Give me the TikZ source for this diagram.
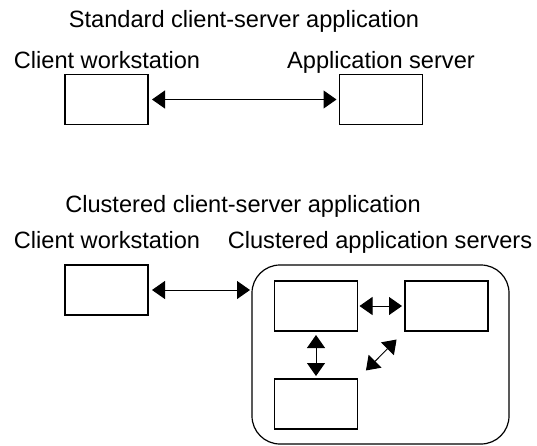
\documentclass[tikz,border=0pt]{standalone}
\usepackage{fontspec}
\setmainfont{Liberation Sans}
\usetikzlibrary{arrows.meta}
\begin{document}
\begin{tikzpicture}[x=1pt,y=-1pt,
  lbl/.style={anchor=base,inner sep=0pt,font=\fontsize{23.6}{28}\selectfont},
  srv/.style={draw,line width=1.2pt,inner sep=0pt,outer sep=0pt,minimum width=83pt,minimum height=50pt},
  cluster/.style={draw,line width=1.2pt,rounded corners=28pt,inner sep=0pt,outer sep=0pt,minimum width=257pt,minimum height=179pt},
  biarrow/.style={line width=1pt,{Triangle[length=13pt,width=18pt]}-{Triangle[length=13pt,width=18pt]}}
]
\useasboundingbox (0,0) rectangle (537,445);
% top section
\node[lbl] (t1) at (244,27) {Standard client-server application};
\node[lbl] (l1) at (107,68) {Client workstation};
\node[lbl] (l2) at (381,68) {Application server};
\node[srv] (c1) at (106.5,99.5) {};
\node[srv] (s1) at (381,99.5) {};
\draw[biarrow,shorten <=4pt,shorten >=3pt] (c1.east) -- (s1.west);
% bottom section
\node[lbl] (t2) at (243,212) {Clustered client-server application};
\node[lbl] (l3) at (107,248) {Client workstation};
\node[lbl] (l4) at (380,248) {Clustered application servers};
\node[srv] (c2) at (106.5,290) {};
\node[cluster] (cl) at (380.5,354.5) {};
\node[srv] (a) at (316,306) {};
\node[srv] (b) at (446.5,306) {};
\node[srv] (c) at (316,404) {};
\draw[biarrow,shorten <=4pt,shorten >=2pt] (c2.east) -- (c2.east -| cl.west);
\draw[biarrow,shorten <=2pt,shorten >=3pt] (a.east) -- (b.west);
\draw[biarrow,shorten <=4pt,shorten >=3pt] (a.south) -- (c.north);
\draw[biarrow,shorten <=12pt,shorten >=12pt] (c.north east) -- (b.south west);
\end{tikzpicture}
\end{document}
